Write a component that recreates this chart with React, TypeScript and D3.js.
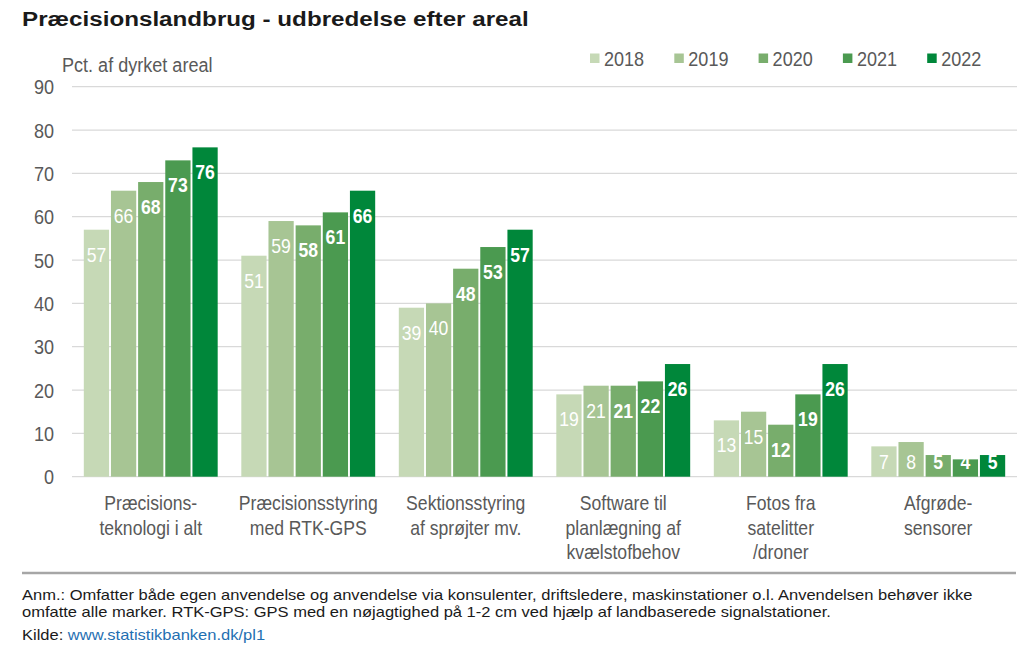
import React from "react";
import * as d3 from "d3";

const categories: string[][] = [
  ["Præcisions-", "teknologi i alt"],
  ["Præcisionsstyring", "med RTK-GPS"],
  ["Sektionsstyring", "af sprøjter mv."],
  ["Software til", "planlægning af", "kvælstofbehov"],
  ["Fotos fra", "satelitter", "/droner"],
  ["Afgrøde-", "sensorer"],
];
const years = ["2018", "2019", "2020", "2021", "2022"];
const v2018 = [57, 51, 39, 19, 13, 7];
const v2019 = [66, 59, 40, 21, 15, 8];
const v2020 = [68, 58, 48, 21, 12, 5];
const v2021 = [73, 61, 53, 22, 19, 4];
const v2022 = [76, 66, 57, 26, 26, 5];
const series = [v2018, v2019, v2020, v2021, v2022];
const colors = ["#c6d9b6", "#a7c594", "#78ad6c", "#4b9a50", "#00873a"];
const yTicks = [0, 10, 20, 30, 40, 50, 60, 70, 80, 90];

const SANS = "'Liberation Sans', Arial, sans-serif";

type TProps = {
  x: number; y: number; sx?: number; size: number; anchor?: "start" | "middle" | "end";
  weight?: string; fill: string; dy?: string; children: React.ReactNode;
};
function T({ x, y, sx = 0.86, size, anchor = "start", weight = "normal", fill, dy, children }: TProps) {
  return (
    <text transform={`translate(${x},${y}) scale(${sx},1)`} textAnchor={anchor} fontFamily={SANS}
      fontSize={size} fontWeight={weight} fill={fill} dy={dy}>
      {children}
    </text>
  );
}

export default function App() {
  const W = 1036, H = 653;
  const left = 72, right = 1017, top = 86.7, bottom = 476.7;
  const y = d3.scaleLinear().domain([0, 90]).range([bottom, top]);
  const catKeys = categories.map((c) => c.join(" "));
  const x0 = d3.scaleBand<string>().domain(catKeys).range([left, right]).paddingInner(0.15).paddingOuter(0.075);
  const x1 = d3.scaleBand<string>().domain(years).range([0, x0.bandwidth()]).paddingInner(0.07).paddingOuter(0);
  const grey = "#595959";

  return (
    <svg width={W} height={H} style={{ position: "absolute", left: 0, top: 0, background: "#fff" }}>
      <rect x={0} y={0} width={W} height={H} fill="#fff" />
      <T x={22} y={25.5} sx={1.21} size={20} weight="bold" fill="#1a1a1a">
        Præcisionslandbrug - udbredelse efter areal
      </T>
      <T x={62} y={72} size={21} fill={grey}>Pct. af dyrket areal</T>

      {yTicks.map((t) => (
        <g key={t}>
          <line x1={left} x2={right} y1={y(t)} y2={y(t)} stroke="#d9d9d9" strokeWidth={1.3} />
          <T x={54} y={y(t)} dy="0.36em" anchor="end" size={21} fill={grey}>{t}</T>
        </g>
      ))}

      {years.map((yr, i) => {
        const lx = 590 + i * 84.3;
        return (
          <g key={yr}>
            <rect x={lx} y={53.5} width={9.5} height={9.5} fill={colors[i]} />
            <T x={lx + 14} y={58.5} dy="0.36em" size={21} fill={grey}>{yr}</T>
          </g>
        );
      })}

      {catKeys.map((ck, ci) => (
        <g key={ck} transform={`translate(${x0(ck)},0)`}>
          {years.map((yr, si) => {
            const v = series[si][ci];
            const bx = x1(yr)!;
            const by = y(v);
            const bh = bottom - by;
            const ly = Math.min(by + 32, bottom - 8);
            return (
              <g key={yr}>
                <rect x={bx} y={by} width={x1.bandwidth()} height={bh} fill={colors[si]} />
                <T x={bx + x1.bandwidth() / 2} y={ly} anchor="middle" sx={0.88}
                  weight={si >= 2 ? "bold" : "normal"} size={20} fill="#fff">{v}</T>
              </g>
            );
          })}
          {categories[ci].map((line, li) => (
            <T key={li} x={x0.bandwidth() / 2} y={510 + li * 24.5} anchor="middle" sx={0.88}
              size={20} fill={grey}>{line}</T>
          ))}
        </g>
      ))}

      <line x1={22} x2={1016} y1={573} y2={573} stroke="#a6a6a6" strokeWidth={2.5} />
      <T x={22} y={600} sx={1.18} size={14} fill="#1a1a1a">
        Anm.: Omfatter både egen anvendelse og anvendelse via konsulenter, driftsledere, maskinstationer o.l. Anvendelsen behøver ikke
      </T>
      <T x={22} y={617} sx={1.18} size={14} fill="#1a1a1a">
        omfatte alle marker. RTK-GPS: GPS med en nøjagtighed på 1-2 cm ved hjælp af landbaserede signalstationer.
      </T>
      <T x={22} y={640} sx={1.18} size={14} fill="#1a1a1a">
        Kilde: <tspan fill="#1f6fb2">www.statistikbanken.dk/pl1</tspan>
      </T>
    </svg>
  );
}
